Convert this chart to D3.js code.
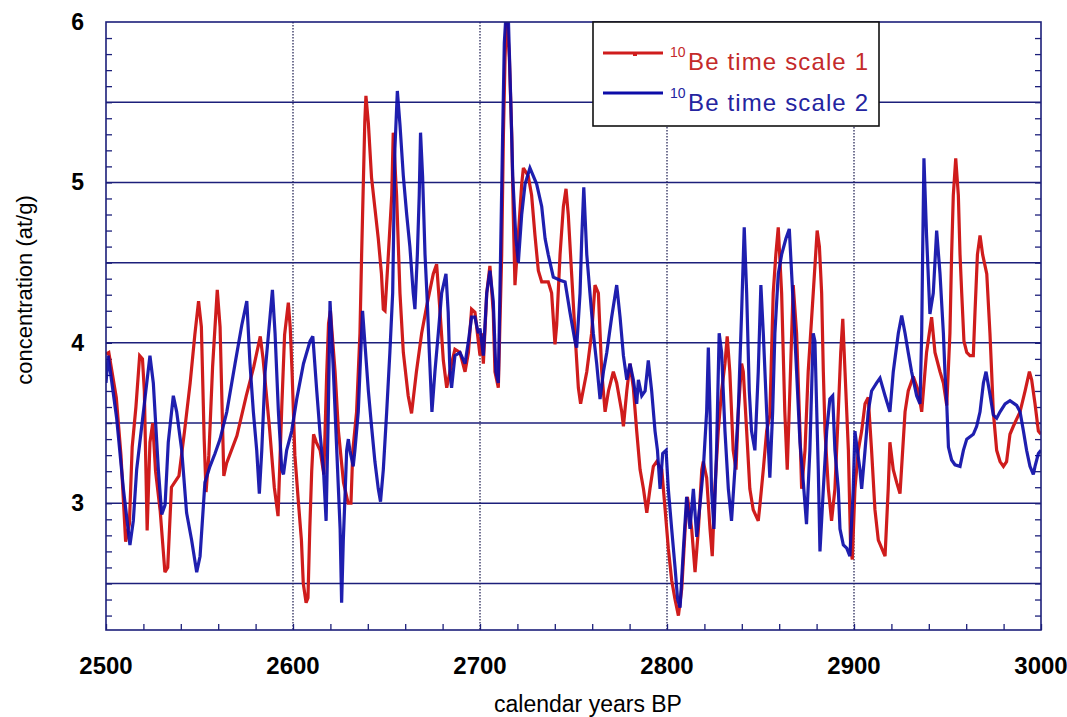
<!DOCTYPE html>
<html>
<head>
<meta charset="utf-8">
<script src="https://cdn.jsdelivr.net/npm/d3@7"></script>
<style>
    body { margin: 0; background: #fff; }
    svg { display: block; font-family: "Liberation Sans", Arial, sans-serif; }
</style>
</head>
<body>
<svg id="chart" width="1067" height="717"></svg>
<script>
// [year BP, concentration]
var redSeries = [
    [2500, 3.93], [2501.5, 3.94], [2505.5, 3.66], [2508, 3.3], [2510.5, 2.76], [2512.5, 2.87], [2514, 3.35],
    [2516, 3.6], [2518, 3.92], [2519.5, 3.9], [2520.5, 3.7], [2522, 2.83], [2523.5, 3.38], [2525, 3.5],
    [2526.5, 3.2], [2529, 2.95], [2531.5, 2.57], [2533, 2.6], [2535, 3.1], [2539, 3.17], [2542, 3.45],
    [2545, 3.75], [2547.5, 4.05], [2549.5, 4.26], [2551, 4.1], [2552.5, 3.4], [2553.5, 3.07], [2555, 3.3],
    [2557, 3.85], [2559.5, 4.33], [2561, 4.1], [2563, 3.17], [2564.5, 3.25], [2570, 3.42], [2575, 3.67],
    [2579, 3.85], [2582.5, 4.04], [2584, 3.9], [2587.5, 3.46], [2590, 3.1], [2592, 2.92], [2594, 3.6],
    [2595.5, 4.05], [2597.5, 4.25], [2598.5, 4.1], [2599.5, 3.82], [2601, 3.3], [2603, 2.99], [2604.5, 2.77],
    [2605.5, 2.5], [2607, 2.38], [2608, 2.41], [2609, 2.85], [2610, 3.2], [2611, 3.43], [2612.5, 3.38],
    [2614.5, 3.33], [2616.5, 3.18], [2618, 3.8], [2619, 4.12], [2620, 4.2], [2622.5, 3.82], [2624.3, 3.45],
    [2627, 3.13], [2629.5, 3.0], [2631, 3.0], [2632, 3.33], [2634, 3.57], [2635.8, 4.06], [2636.7, 4.55],
    [2638.4, 5.38], [2639, 5.54], [2640.3, 5.37], [2642, 5.03], [2643.8, 4.84], [2645.6, 4.65], [2647.3, 4.43],
    [2648.3, 4.21], [2649.2, 4.2], [2651, 4.55], [2652.8, 4.92], [2653.6, 5.31], [2655.4, 4.92], [2657.2, 4.31],
    [2659, 3.94], [2661.6, 3.67], [2663.4, 3.56], [2666, 3.82], [2668.8, 4.06], [2671.5, 4.23], [2675, 4.43],
    [2676.8, 4.49], [2678.6, 4.2], [2680.4, 3.89], [2682.2, 3.72], [2684.8, 3.87], [2686.6, 3.96], [2689.3, 3.94],
    [2692, 3.82], [2693.8, 3.94], [2695.5, 4.21], [2697.3, 4.19], [2699.1, 4.01], [2700, 3.92], [2700.9, 4.06],
    [2701.8, 3.87], [2703.6, 4.31], [2705.3, 4.48], [2707.1, 4.19], [2708, 3.82], [2709.8, 3.72], [2711.6, 4.55],
    [2712.5, 5.29], [2713.4, 5.78], [2714.3, 6.05], [2715.7, 5.78], [2717, 5.29], [2717.8, 4.8], [2718.7, 4.36],
    [2720.5, 4.67], [2722.3, 4.99], [2723.2, 5.09], [2725.8, 5.04], [2727.6, 4.92], [2729.4, 4.67], [2731.2, 4.45],
    [2733, 4.38], [2736.5, 4.38], [2738.3, 4.31], [2740.1, 3.99], [2741, 4.11], [2742.8, 4.55], [2744.6, 4.85],
    [2746, 4.96], [2747.2, 4.8], [2749, 4.43], [2750.8, 4.06], [2752.6, 3.72], [2753.8, 3.62], [2757.1, 3.82],
    [2759.7, 4.06], [2761.5, 4.36], [2763.3, 4.31], [2765.1, 3.82], [2766.9, 3.57], [2768.7, 3.7], [2771.3, 3.82],
    [2773.1, 3.75], [2775.8, 3.57], [2776.7, 3.48], [2778.5, 3.7], [2780.2, 3.87], [2782, 3.72], [2783.8, 3.45],
    [2785.6, 3.21], [2787.4, 3.09], [2789.2, 2.94], [2790.9, 3.09], [2792.7, 3.23], [2794.5, 3.26], [2797.2, 3.21],
    [2799, 2.96], [2800.7, 2.72], [2802.5, 2.52], [2804.3, 2.4], [2806.1, 2.3], [2807.9, 2.47], [2809.7, 2.84],
    [2810.9, 3.04], [2813.2, 2.84], [2815, 2.57], [2816.8, 2.84], [2818.6, 3.21], [2819.4, 3.26], [2821.2, 3.16],
    [2823, 2.84], [2824.2, 2.67], [2825.6, 3.09], [2827.4, 3.45], [2829.2, 3.7], [2831, 3.87], [2832.2, 4.04],
    [2833.6, 3.82], [2835.4, 3.33], [2836.9, 3.21], [2838.1, 3.57], [2839.9, 3.87], [2840.8, 3.82], [2842.6, 3.45],
    [2844.3, 3.09], [2846.1, 2.96], [2848.8, 2.89], [2849.7, 2.99], [2851.5, 3.21], [2853.3, 3.45], [2855, 3.55],
    [2856.8, 4.31], [2858.2, 4.55], [2859.5, 4.72], [2861.3, 4.31], [2863, 3.57], [2864.3, 3.21], [2865.7, 3.7],
    [2867.5, 4.36], [2869.3, 4.06], [2871.1, 3.45], [2872, 3.09], [2873.8, 3.33], [2875.5, 3.82], [2878.2, 4.31],
    [2880.3, 4.7], [2881.5, 4.6], [2882.7, 4.31], [2883.6, 3.82], [2884.5, 3.45], [2886.3, 3.09], [2888, 2.89],
    [2889.8, 3.09], [2891.6, 3.57], [2892.9, 3.94], [2894, 4.15], [2895.2, 3.82], [2897, 3.33], [2898.2, 2.72],
    [2899.1, 2.65], [2900.5, 3.09], [2902.3, 3.33], [2904.1, 3.45], [2905.9, 3.62], [2907.6, 3.66], [2909.4, 3.33],
    [2911.2, 2.96], [2913, 2.77], [2914.8, 2.72], [2916.6, 2.67], [2918.3, 3.09], [2919.2, 3.38], [2921, 3.21],
    [2922.8, 3.13], [2924.6, 3.06], [2927.3, 3.57], [2929, 3.7], [2931.7, 3.79], [2934.4, 3.7], [2936.2, 3.57],
    [2938.8, 3.94], [2941.5, 4.16], [2943.3, 3.94], [2946, 3.82], [2947.8, 3.75], [2949.6, 3.61], [2951.3, 4.06],
    [2952.2, 4.55], [2953.1, 4.92], [2954.4, 5.15], [2955.8, 4.92], [2956.7, 4.55], [2957.6, 4.31], [2958.8, 4.01],
    [2960.3, 3.94], [2962, 3.92], [2963.8, 3.92], [2964.7, 4.19], [2966, 4.55], [2967.4, 4.67], [2968.8, 4.55],
    [2971, 4.43], [2972.7, 4.06], [2973.6, 3.82], [2974.5, 3.57], [2976.3, 3.33], [2978.1, 3.26], [2979.9, 3.23],
    [2981.6, 3.26], [2983.4, 3.43], [2985.2, 3.48], [2988.8, 3.57], [2991.5, 3.7], [2993.8, 3.82], [2995, 3.77],
    [2996.8, 3.62], [2998.6, 3.45], [3000, 3.43]
];

var blueSeries = [
    [2500, 3.75], [2501.2, 3.92], [2505.7, 3.53], [2509.3, 3.09], [2512.8, 2.74], [2514.6, 2.89], [2516.4, 3.21],
    [2520, 3.57], [2523.5, 3.92], [2525.3, 3.75], [2528, 3.21], [2529.8, 2.93], [2531.6, 2.99], [2533.3, 3.38],
    [2536, 3.67], [2537.8, 3.57], [2540.5, 3.33], [2543.1, 2.94], [2545.8, 2.77], [2548.5, 2.57], [2550.3, 2.67],
    [2552.9, 3.13], [2555.6, 3.23], [2558.3, 3.31], [2561, 3.4], [2564.6, 3.57], [2569, 3.87], [2572.6, 4.11],
    [2575.3, 4.26], [2577, 3.87], [2578.8, 3.57], [2580.6, 3.33], [2582, 3.06], [2583.3, 3.33], [2585.1, 3.82],
    [2587.7, 4.16], [2589, 4.33], [2590.4, 4.06], [2592.2, 3.57], [2594, 3.21], [2594.9, 3.18], [2596.6, 3.33],
    [2599.3, 3.45], [2602, 3.65], [2605.6, 3.87], [2609.1, 4.01], [2610.6, 4.04], [2612.7, 3.7], [2614.5, 3.43],
    [2616.3, 3.21], [2617.7, 2.89], [2618.9, 3.57], [2619.8, 4.26], [2621.6, 3.82], [2623.4, 3.33], [2625.2, 2.84],
    [2626, 2.38], [2626.9, 2.77], [2627.8, 3.04], [2628.7, 3.33], [2629.6, 3.4], [2630.4, 3.33], [2632.2, 3.23],
    [2633.1, 3.33], [2634.9, 3.57], [2635.8, 3.82], [2637.2, 4.2], [2638.5, 3.99], [2640.3, 3.7], [2642, 3.48],
    [2643.8, 3.26], [2645.6, 3.09], [2646.8, 3.01], [2648.3, 3.21], [2650.1, 3.57], [2651.8, 3.94], [2653.3, 4.31],
    [2654.5, 5.21], [2655.8, 5.57], [2657.2, 5.36], [2659, 5.04], [2660.8, 4.8], [2662.5, 4.6], [2664.3, 4.31],
    [2665.2, 4.21], [2666.5, 4.55], [2667.5, 4.92], [2668.2, 5.31], [2669.3, 5.04], [2670.6, 4.55], [2671.8, 4.26],
    [2672.9, 3.94], [2674.3, 3.57], [2675.9, 3.82], [2677.7, 4.06], [2679.5, 4.31], [2681.8, 4.43], [2683, 4.19],
    [2683.9, 3.82], [2684.8, 3.72], [2686.6, 3.92], [2689.3, 3.94], [2692, 3.87], [2693.8, 4.01], [2695.5, 4.16],
    [2697.3, 4.16], [2699.1, 4.06], [2700, 4.09], [2701.8, 3.92], [2703.6, 4.31], [2705.3, 4.45], [2707.1, 4.26],
    [2708.5, 3.82], [2709.8, 3.75], [2711, 4.55], [2712.1, 5.29], [2713, 5.87], [2713.9, 6.05], [2715.1, 6.05],
    [2716.4, 5.53], [2717.5, 5.04], [2719.2, 4.65], [2720.5, 4.5], [2722.3, 4.8], [2724.1, 4.99], [2726.7, 5.09],
    [2730.3, 4.99], [2733, 4.85], [2734.8, 4.65], [2736.5, 4.55], [2739.2, 4.41], [2742.8, 4.39], [2745.5, 4.38],
    [2748.1, 4.19], [2750.8, 4.01], [2751.7, 3.97], [2753.5, 4.31], [2754.4, 4.65], [2755.5, 4.97], [2757.1, 4.55],
    [2758.8, 4.31], [2760.6, 4.06], [2762.4, 3.87], [2764.2, 3.65], [2766, 3.82], [2767.8, 3.94], [2770.4, 4.16],
    [2773.1, 4.36], [2774.9, 4.16], [2776.7, 3.92], [2778.5, 3.77], [2780.2, 3.87], [2782, 3.77], [2783.8, 3.62],
    [2784.7, 3.77], [2786.5, 3.67], [2788.3, 3.7], [2790, 3.89], [2791.8, 3.7], [2793.6, 3.45], [2794.9, 3.33],
    [2796.3, 3.09], [2797.7, 3.31], [2799.5, 3.33], [2800.7, 3.09], [2802.5, 2.84], [2804.3, 2.6], [2805.7, 2.4],
    [2807, 2.35], [2808.8, 2.72], [2810.5, 3.04], [2812.3, 2.84], [2814.1, 3.09], [2815.9, 2.79], [2817.7, 3.0],
    [2819.4, 3.21], [2821.2, 3.57], [2822.1, 3.97], [2823, 3.57], [2823.8, 3.09], [2825.1, 2.84], [2826.5, 3.33],
    [2827.9, 4.06], [2829.2, 3.94], [2831, 3.45], [2832.8, 3.09], [2834.5, 2.89], [2836.3, 3.21], [2838.1, 3.57],
    [2839.9, 4.19], [2841.3, 4.72], [2842.6, 4.31], [2844, 3.7], [2845.2, 3.45], [2847, 3.33], [2848.8, 3.82],
    [2850.2, 4.36], [2851.5, 4.06], [2853.3, 3.57], [2855, 3.16], [2856.5, 3.57], [2857.7, 4.06], [2859.5, 4.43],
    [2861.3, 4.55], [2863.6, 4.65], [2865.4, 4.71], [2867.2, 4.31], [2869.3, 3.82], [2871.1, 3.38], [2872.9, 3.13],
    [2874.6, 2.87], [2876.4, 3.33], [2878.2, 4.06], [2879.1, 4.01], [2880.9, 3.21], [2881.8, 2.7], [2883.6, 3.09],
    [2885.4, 3.45], [2887.1, 3.65], [2888.6, 3.67], [2889.8, 3.33], [2891.6, 3.09], [2892.5, 2.84], [2894.3, 2.74],
    [2896.1, 2.72], [2897.8, 2.67], [2899.6, 3.09], [2900.5, 3.45], [2901.8, 3.33], [2903.2, 3.21], [2904.1, 3.09],
    [2905.9, 3.33], [2907.6, 3.57], [2909.4, 3.7], [2912.1, 3.75], [2913.9, 3.78], [2916.6, 3.67], [2919.2, 3.57],
    [2921, 3.82], [2923.7, 4.06], [2925.5, 4.17], [2927.3, 4.06], [2929, 3.94], [2930.8, 3.82], [2933.5, 3.67],
    [2935.3, 3.62], [2936.2, 4.06], [2936.7, 4.55], [2937.4, 5.15], [2938.8, 4.67], [2940.6, 4.18], [2942.4, 4.31],
    [2944.2, 4.7], [2946, 4.43], [2947.8, 4.06], [2948.7, 3.8], [2949.6, 3.62], [2950.5, 3.35], [2952.2, 3.27],
    [2954, 3.24], [2956.7, 3.23], [2958.5, 3.33], [2960.3, 3.4], [2963.8, 3.43], [2965.6, 3.48], [2967.4, 3.57],
    [2969.2, 3.75], [2970.6, 3.82], [2972.4, 3.7], [2974.5, 3.55], [2976.3, 3.53], [2978.1, 3.57], [2980.8, 3.62],
    [2983.4, 3.64], [2987, 3.61], [2988.8, 3.57], [2990.6, 3.45], [2992.3, 3.33], [2994.1, 3.23], [2995.9, 3.18],
    [2996.8, 3.23], [2998.6, 3.31], [3000, 3.33]
];

var xTickLabels = [2500, 2600, 2700, 2800, 2900, 3000];
var yTickLabels = [3, 4, 5, 6];
var yGridValues = [2.5, 3, 3.5, 4, 4.5, 5, 5.5];
var legendLabels = ["Be time scale 1", "Be time scale 2"];

(function () {
    var red = "#cf1c1c",
        blue = "#0c0ca8",
        navy = "#1c1f7a";

    var svg = d3.select("#chart"),
        plotLeft = 106, plotRight = 1041, plotTop = 22, plotBottom = 630;

    var x = d3.scaleLinear().domain([2500, 3000]).range([plotLeft, plotRight]);
    var y = d3.scaleLinear().domain([2.21, 6]).range([plotBottom, plotTop]);

    svg.append("clipPath").attr("id", "plotclip")
        .append("rect")
        .attr("x", plotLeft).attr("y", plotTop)
        .attr("width", plotRight - plotLeft).attr("height", plotBottom - plotTop);

    // horizontal grid
    svg.append("g")
        .selectAll("line")
        .data(yGridValues)
        .enter()
        .append("line")
        .attr("x1", plotLeft).attr("x2", plotRight)
        .attr("y1", function (d) { return y(d); })
        .attr("y2", function (d) { return y(d); })
        .attr("stroke", navy)
        .attr("stroke-width", 1.5);

    // dotted verticals
    svg.append("g")
        .selectAll("line")
        .data(xTickLabels.slice(1, -1))
        .enter()
        .append("line")
        .attr("x1", function (d) { return x(d); })
        .attr("x2", function (d) { return x(d); })
        .attr("y1", plotTop).attr("y2", plotBottom)
        .attr("stroke", "#2a2a5a")
        .attr("stroke-width", 1.3)
        .attr("stroke-dasharray", "1.5,1.5");

    // inward minor ticks
    var minorY = d3.range(23, 60).map(function (d) { return d / 10; });
    var yAxisL = d3.axisRight(y).tickValues(minorY).tickSize(6).tickFormat("");
    var yAxisR = d3.axisLeft(y).tickValues(minorY).tickSize(6).tickFormat("");
    var xAxisB = d3.axisTop(x).tickValues(d3.range(2500, 3001, 20)).tickSize(6).tickFormat("");

    svg.append("g").attr("transform", "translate(" + plotLeft + ",0)").call(yAxisL);
    svg.append("g").attr("transform", "translate(" + plotRight + ",0)").call(yAxisR);
    svg.append("g").attr("transform", "translate(0," + plotBottom + ")").call(xAxisB);
    svg.selectAll(".domain").remove();
    svg.selectAll(".tick line").attr("stroke", navy).attr("stroke-width", 1.3);

    var line = d3.line()
        .x(function (d) { return x(d[0]); })
        .y(function (d) { return y(d[1]); });

    var plot = svg.append("g").attr("clip-path", "url(#plotclip)");

    plot.append("path")
        .datum(redSeries)
        .attr("d", line)
        .attr("fill", "none")
        .attr("stroke", red)
        .attr("stroke-width", 3.2)
        .attr("stroke-linejoin", "miter")
        .attr("stroke-miterlimit", 3);

    plot.append("path")
        .datum(blueSeries)
        .attr("d", line)
        .attr("fill", "none")
        .attr("stroke", blue)
        .attr("stroke-width", 3.2)
        .attr("stroke-opacity", 0.92)
        .attr("stroke-linejoin", "miter")
        .attr("stroke-miterlimit", 3);

    // frame
    svg.append("rect")
        .attr("x", plotLeft).attr("y", plotTop)
        .attr("width", plotRight - plotLeft).attr("height", plotBottom - plotTop)
        .attr("fill", "none")
        .attr("stroke", navy)
        .attr("stroke-width", 1.6);

    // tick labels
    svg.append("g")
        .selectAll("text")
        .data(xTickLabels)
        .enter()
        .append("text")
        .attr("x", function (d) { return x(d); })
        .attr("y", 674)
        .attr("text-anchor", "middle")
        .attr("font-size", 24)
        .attr("font-weight", "bold")
        .text(function (d) { return d; });

    svg.append("g")
        .selectAll("text")
        .data(yTickLabels)
        .enter()
        .append("text")
        .attr("x", 84)
        .attr("y", function (d) { return y(d) + 8; })
        .attr("text-anchor", "end")
        .attr("font-size", 23)
        .attr("font-weight", "bold")
        .text(function (d) { return d; });

    svg.append("text")
        .attr("x", 588).attr("y", 712)
        .attr("text-anchor", "middle")
        .attr("font-size", 23)
        .text("calendar years BP");

    svg.append("text")
        .attr("transform", "translate(32,290) rotate(-90)")
        .attr("text-anchor", "middle")
        .attr("font-size", 22)
        .text("concentration (at/g)");

    // legend
    var legend = svg.append("g");
    legend.append("rect")
        .attr("x", 593).attr("y", 22)
        .attr("width", 286).attr("height", 104)
        .attr("fill", "#fff")
        .attr("stroke", "#111")
        .attr("stroke-width", 1.6);

    var rows = [
        { label: legendLabels[0], color: red, text: "#c42a2a", lineY: 53, base: 70 },
        { label: legendLabels[1], color: blue, text: "#2424a0", lineY: 93, base: 111 }
    ];

    rows.forEach(function (r, i) {
        legend.append("line")
            .attr("x1", 603).attr("x2", 663)
            .attr("y1", r.lineY).attr("y2", r.lineY)
            .attr("stroke", r.color)
            .attr("stroke-width", 3);
        if (i === 0) {
            legend.append("rect")
                .attr("x", 633).attr("y", r.lineY - 1)
                .attr("width", 4).attr("height", 4)
                .attr("fill", r.color);
        }
        legend.append("text")
            .attr("x", 670).attr("y", r.base - 13)
            .attr("font-size", 14)
            .attr("fill", r.text)
            .text("10");
        legend.append("text")
            .attr("x", 688).attr("y", r.base)
            .attr("font-size", 24)
            .attr("fill", r.text)
            .attr("textLength", 180)
            .attr("lengthAdjust", "spacing")
            .text(r.label);
    });
})();
</script>
</body>
</html>
